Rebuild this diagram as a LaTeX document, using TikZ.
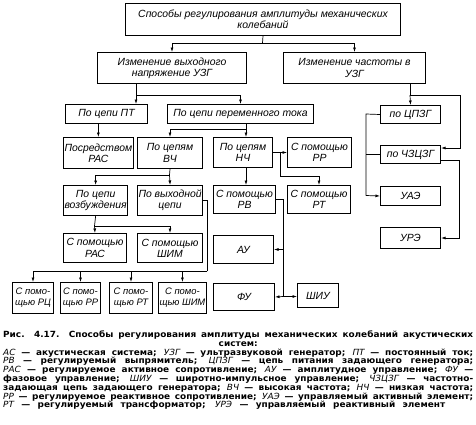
\documentclass[tikz,border=0pt]{standalone}
\usepackage{fontspec}
\setmainfont{Liberation Sans}
\newfontfamily\boxfont[WordSpace=1.6]{Liberation Sans}
\newfontfamily\sboxfont{Liberation Sans}
\newfontfamily\capfont[FakeStretch=1.05]{DejaVu Sans}
\usetikzlibrary{arrows.meta,calc}
\newcommand\myab[1]{{\mdseries\itshape #1}}
\newcommand\jline[1]{\noindent\makebox[\linewidth][s]{#1}\par}
\tikzset{
  box/.style={draw, line width=1pt, anchor=north west, align=center, inner sep=1pt,
    font=\boxfont\itshape\fontsize{10.4}{11.2}\selectfont},
  sbox/.style={box, font=\sboxfont\itshape\fontsize{9.4}{11}\selectfont},
  con/.style={line width=0.7pt},
  arr/.style={con, -{Latex[length=4.5pt,width=3pt]}}
}
\begin{document}
\begin{tikzpicture}[x=1pt,y=-1pt]
\useasboundingbox (0,0) rectangle (476,424);
\fill[white] (0,0) rectangle (476,424);
% boxes
\node[box, minimum width=275, minimum height=32] (top) at (125,3) {Способы регулирования амплитуды механических\\колебаний};
\node[box, minimum width=149, minimum height=31] (izmV) at (97,52) {Изменение выходного\\напряжение УЗГ};
\node[box, minimum width=142, minimum height=31] (izmC) at (283,52) {Изменение частоты в\\УЗГ};
\node[box, minimum width=82, minimum height=19] (pt) at (65,104) {По цепи ПТ};
\node[box, minimum width=146, minimum height=19] (pert) at (167,104) {По цепи переменного тока};
\node[box, minimum width=63, minimum height=31] (pras) at (63,137) {Посредством\\РАС};
\node[box, minimum width=65, minimum height=31] (vch) at (137,137) {По цепям\\ВЧ};
\node[box, minimum width=59, minimum height=30] (nch) at (213,137) {По цепям\\НЧ};
\node[box, minimum width=64, minimum height=30] (rr) at (287,137) {С помощью\\РР};
\node[box, minimum width=63, minimum height=30] (vozb) at (63,185) {По цепи\\возбуждения};
\node[box, minimum width=65, minimum height=30] (vyh) at (137,185) {По выходной\\цепи};
\node[box, minimum width=62, minimum height=28] (rv) at (213,185) {С помощью\\РВ};
\node[box, minimum width=63, minimum height=28] (rt) at (287,185) {С помощью\\РТ};
\node[box, minimum width=63, minimum height=29] (ras2) at (63,233) {С помощью\\РАС};
\node[box, minimum width=65, minimum height=29] (shim2) at (137,233) {С помощью\\ШИМ};
\node[box, minimum width=60, minimum height=28] (au) at (213,235) {АУ};
\node[box, minimum width=61, minimum height=27] (fu) at (213,283) {ФУ};
\node[box, minimum width=41, minimum height=24] (shiu) at (297,283) {ШИУ};
\node[sbox, minimum width=41, minimum height=31] (b1) at (12,282) {С помо-\\щью РЦ};
\node[sbox, minimum width=40, minimum height=31] (b2) at (60,282) {С помо-\\щью РР};
\node[sbox, minimum width=43, minimum height=31] (b3) at (109,282) {С помо-\\щью РТ};
\node[sbox, minimum width=44, minimum height=31] (b4) at (158,282) {С помо-\\щью ШИМ};
\node[box, minimum width=60, minimum height=18] (cpzg) at (380,105) {по ЦПЗГ};
\node[box, minimum width=60, minimum height=18] (chz) at (380,145) {по ЧЗЦЗГ};
\node[box, minimum width=60, minimum height=19] (uae) at (380,186) {УАЭ};
\node[box, minimum width=60, minimum height=21] (ure) at (380,227) {УРЭ};
% junctions
\coordinate (j1) at (262.5,43);
\coordinate (j2) at (136,95);
\coordinate (j3) at (410,95);
\coordinate (j12) at (460,95);
\coordinate (j4) at (246,129);
\coordinate (j5) at (280,152);
\coordinate (j5b) at (280,176);
\coordinate (j6) at (169.5,175);
\coordinate (j7) at (94.5,226);
\coordinate (j8) at (207,271);
\coordinate (j9) at (283,296.5);
\coordinate (j10) at (366,114);
\coordinate (j11) at (366,195.5);
\coordinate (j13) at (459,160);
% connectors
\draw[con] (top.south) -- (j1);
\draw[arr] (j1) -| (izmV.north);
\draw[arr] (j1) -| (izmC.north);
\draw[con] (izmV.south -| j2) -- (j2);
\draw[arr] (j2) -- (pt.north -| j2);
\draw[arr] (j2) -| (pert.north);
\draw[con] (izmC.south -| j3) -- (j3);
\draw[arr] (j3) -- (cpzg.north);
\draw[con] (j3) -- (j12);
\draw[arr] (j12) |- (chz.east |- 0,148);
\draw[arr] (chz.east |- j13) -- (j13) |- (ure.east);
\draw[con] (cpzg.west) -- (j10) -- (j11);
\draw[arr] (j11) -- (uae.west);
\draw[con] (j10 |- chz.west) -- (chz.west);
\draw[arr] (pt.south -| pras.north) -- (pras.north);
\draw[con] (pert.south -| j4) -- (j4);
\draw[arr] (j4) -- (nch.north -| j4);
\draw[arr] (j4) -| (vch.north);
\draw[arr] (nch.east) -- (rr.west);
\draw[arr] (j5) -- (j5b) -| (rt.north);
\draw[arr] (nch.south -| j4) -- (rv.north -| j4);
\draw[con] (vch.south) -- (j6);
\draw[arr] (j6) -- (vyh.north);
\draw[arr] (j6) -| (vozb.north);
\draw[con] (vozb.south) -- (j7);
\draw[arr] (j7) -- (ras2.north);
\draw[arr] (j7) -| (shim2.north);
\draw[con] (vyh.east) -| (j8);
\foreach \b in {b1,b2,b3,b4} \draw[arr] (j8) -| (\b.north);
\draw[con] (rv.east) -| (j9);
\draw[arr] (au.east -| j9) -- (au.east);
\draw[arr] (j9) -- (fu.east);
\draw[arr] (j9) -- (shiu.west |- j9);
% caption
\node[anchor=north west, inner sep=0] (cap) at (3,330.5) {\begin{minipage}{470pt}\capfont\bfseries\fontsize{8.5}{8.8}\selectfont
\jline{Рис. 4.17. Способы регулирования амплитуды механических колебаний акустических}
\noindent\makebox[\linewidth][c]{систем:}\par
\jline{\myab{АС} — акустическая система; \myab{УЗГ} — ультразвуковой генератор; \myab{ПТ} — постоянный ток;}
\jline{\myab{РВ} — регулируемый выпрямитель; \myab{ЦПЗГ} — цепь питания задающего генератора;}
\jline{\myab{РАС} — регулируемое активное сопротивление; \myab{АУ} — амплитудное управление; \myab{ФУ} —}
\jline{фазовое управление; \myab{ШИУ} — широтно-импульсное управление; \myab{ЧЗЦЗГ} — частотно-}
\jline{задающая цепь задающего генератора; \myab{ВЧ} — высокая частота; \myab{НЧ} — низкая частота;}
\jline{\myab{РР} — регулируемое реактивное сопротивление; \myab{УАЭ} — управляемый активный элемент;}
\noindent\makebox[442pt][s]{\myab{РТ} — регулируемый трансформатор; \myab{УРЭ} — управляемый реактивный элемент}\par
\end{minipage}};
\end{tikzpicture}
\end{document}
